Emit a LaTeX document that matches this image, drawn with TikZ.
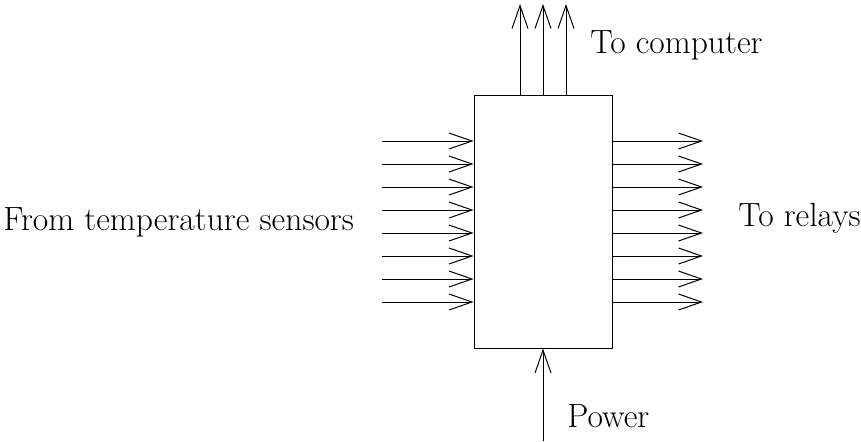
\documentclass[tikz,border=0pt]{standalone}
\usetikzlibrary{arrows.meta,positioning,calc}

\begin{document}
\begin{tikzpicture}[x=0.5pt, y=-0.5pt,
    every node/.style={font=\fontsize{16.8}{20}\selectfont},
    lbl/.style={anchor=west, inner sep=0pt},
    sig/.style={-{Straight Barb[length=11.5pt,width=8pt]}, line width=0.5pt}]
  \useasboundingbox (0,0) rectangle (861,441);
  % controller box
  \node[draw, line width=0.5pt, minimum width=69pt, minimum height=126.5pt,
        inner sep=0pt] (ctl) at (543,221.5) {};
  % sensor inputs and relay outputs
  \foreach \i in {0,...,7} {
    \coordinate (in\i) at (382,141+23*\i);
    \coordinate (out\i) at (703,141+23*\i);
    \draw[sig] (in\i) -- (ctl.west |- in\i);
    \draw[sig] (ctl.east |- out\i) -- (out\i);
  }
  % lines to computer
  \foreach \x [count=\j] in {520,543,566} {
    \coordinate (pc\j) at (\x,4);
    \draw[sig] (ctl.north -| pc\j) -- (pc\j);
  }
  % power
  \coordinate (pwr) at (543,441);
  \draw[sig] (pwr) -- (ctl.south);
  % labels
  \node[lbl] (sensors) at (3,222) {From temperature sensors};
  \node[lbl] (computer) at (590,45) {To computer};
  \node[lbl] (relays) at (738,218) {To relays};
  \node[lbl] (power) at (567,416) {Power};
\end{tikzpicture}
\end{document}
